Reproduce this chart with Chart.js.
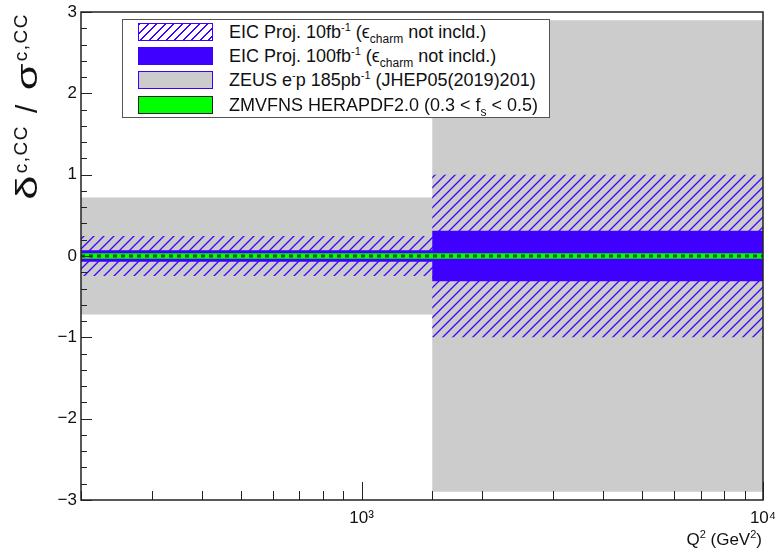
<!DOCTYPE html>
<html>
<head>
<meta charset="utf-8">
<script src="https://cdn.jsdelivr.net/npm/chart.js@4.4.1/dist/chart.umd.min.js"></script>
<style>
  body { margin: 0; background: #fff; font-family: "Liberation Sans", Arial, sans-serif; color: #111; }
  #wrap { position: relative; width: 775px; height: 550px; overflow: hidden; }
  #legend { position: absolute; left: 122px; top: 19px; width: 426px; height: 97px; border: 1px solid #555; background: #fff; }
  .row { position: absolute; left: 0; width: 100%; height: 24px; }
  .sw { position: absolute; left: 15px; top: 3px; width: 73px; height: 16px; box-sizing: content-box; }
  .txt { position: absolute; left: 106px; top: 0; line-height: 24px; font-size: 18px; white-space: nowrap; }
  .txt sup { font-size: 11px; vertical-align: 7px; line-height: 0; }
  .txt sub { font-size: 12px; vertical-align: -5px; line-height: 0; }
  #ytitle { position: absolute; left: 27px; top: 13px; transform-origin: 0 0; transform: rotate(-90deg) translate(-100%, -50%);
            font-size: 30px; white-space: nowrap; line-height: 1; }
  #ytitle .g { display: inline-block; transform: scaleX(1.45); margin: 0 6px; }
  #ytitle sup { font-size: 19px; letter-spacing: 1.5px; vertical-align: 10px; line-height: 0; }
  #ytitle .sl { margin: 0 13px 0 12px; }
  #xtitle { position: absolute; right: 13px; top: 530px; font-size: 17px; white-space: nowrap; }
  #xtitle sup { font-size: 11px; vertical-align: 7px; line-height: 0; }
</style>
</head>
<body>
<div id="wrap">
  <canvas id="chart" width="775" height="550"></canvas>
  <div id="ytitle"><span class="g">δ</span><sup>c,CC</sup><span class="sl">/</span><span class="g">σ</span><sup>c,CC</sup></div>
  <div id="xtitle">Q<sup>2</sup> (GeV<sup>2</sup>)</div>
  <div id="legend">
    <div class="row" style="top:0px">
      <div class="sw" style="border:1px solid #4000ff; background: repeating-linear-gradient(135deg, #4000ff 0 1.3px, #fff 1.3px 6px);"></div>
      <div class="txt">EIC Proj. 10fb<sup>-1</sup> (ϵ<sub>charm</sub> not incld.)</div>
    </div>
    <div class="row" style="top:24px">
      <div class="sw" style="border:1px solid #4000ff; background:#4000ff;"></div>
      <div class="txt">EIC Proj. 100fb<sup>-1</sup> (ϵ<sub>charm</sub> not incld.)</div>
    </div>
    <div class="row" style="top:48px">
      <div class="sw" style="border:1px solid #4000ff; background:#cccccc;"></div>
      <div class="txt">ZEUS e<sup>-</sup>p 185pb<sup>-1</sup> (JHEP05(2019)201)</div>
    </div>
    <div class="row" style="top:73px">
      <div class="sw" style="border:1px solid #222; background:#00ff00;"></div>
      <div class="txt">ZMVFNS HERAPDF2.0 (0.3 &lt; f<sub>s</sub> &lt; 0.5)</div>
    </div>
  </div>
</div>
<script>
// bins in Q^2 (GeV^2)
const binEdges = [200, 1500, 10000];
// relative uncertainty, one value per bin (symmetric)
const central = [0, 0];
const zeusErr = [0.72, 2.9];
const eic10Err = [0.245, 1.0];
const eic100Err = [0.07, 0.31];
const theoryErr = [0.035, 0.035];

const blue = "#4000ff";

function isMajor(v) {
  return Math.abs(v - Math.round(v)) < 1e-6;
}

// points for a stepped line, last edge repeats last bin value
function stepPoints(err, sign) {
  return binEdges.map((x, i) => {
    const k = Math.min(i, err.length - 1);
    return { x: x, y: central[k] + sign * err[k] };
  });
}

// hatch pattern like root fill style 3004
function makeHatch() {
  const c = document.createElement("canvas");
  c.width = 10;
  c.height = 10;
  const g = c.getContext("2d");
  g.strokeStyle = blue;
  g.lineWidth = 1.3;
  g.beginPath();
  g.moveTo(0, 10); g.lineTo(10, 0);
  g.moveTo(-5, 5); g.lineTo(5, -5);
  g.moveTo(5, 15); g.lineTo(15, 5);
  g.stroke();
  return g.createPattern(c, "repeat");
}

function band(err, color) {
  return [
    { data: stepPoints(err, 1), fill: "+1", backgroundColor: color },
    { data: stepPoints(err, -1), fill: false }
  ];
}

const rootAxes = {
  id: "rootAxes",
  afterDatasetsDraw(chart) {
    const { ctx, chartArea: a, scales } = chart;
    ctx.save();
    ctx.strokeStyle = "#222";
    ctx.lineWidth = 1;
    scales.y.ticks.forEach(t => {
      const py = Math.round(scales.y.getPixelForValue(t.value)) + 0.5;
      const len = isMajor(t.value) ? 11 : 6;
      ctx.beginPath();
      ctx.moveTo(a.left, py);
      ctx.lineTo(a.left + len, py);
      ctx.stroke();
    });
    scales.x.ticks.forEach(t => {
      const px = Math.round(scales.x.getPixelForValue(t.value)) + 0.5;
      const len = isMajor(Math.log10(t.value)) ? 18 : 9;
      ctx.beginPath();
      ctx.moveTo(px, a.bottom);
      ctx.lineTo(px, a.bottom - len);
      ctx.stroke();
    });
    ctx.lineWidth = 1.5;
    ctx.strokeRect(a.left, a.top, a.right - a.left, a.bottom - a.top);
    ctx.restore();
  }
};

const datasets = [
  { data: stepPoints(central, 0), fill: false, borderColor: "#0b5a0b", borderWidth: 3, borderDash: [4, 4] }
]
  .concat(band(theoryErr, "#00ff00"))
  .concat(band(eic100Err, blue))
  .concat(band(eic10Err, makeHatch()))
  .concat(band(zeusErr, "#cccccc"));

datasets.forEach(d => {
  d.showLine = true;
  d.stepped = "before"; // horizontal across the bin, then step at the edge
  d.pointRadius = 0;
  if (!d.borderColor) {
    d.borderColor = "rgba(0,0,0,0)";
    d.borderWidth = 0;
  }
});

Chart.defaults.font.family = "'Liberation Sans', Arial, sans-serif";
Chart.defaults.color = "#111";

new Chart(document.getElementById("chart"), {
  type: "scatter",
  data: { datasets: datasets },
  options: {
    responsive: false,
    animation: false,
    layout: { padding: { top: 12, right: 12, left: 0, bottom: 0 } },
    plugins: { legend: { display: false }, tooltip: { enabled: false } },
    scales: {
      x: {
        type: "logarithmic",
        min: 200,
        max: 10000,
        grid: { display: false, drawTicks: false },
        border: { display: false },
        ticks: {
          autoSkip: false,
          maxRotation: 0,
          padding: 8,
          font: { size: 17 },
          callback: v => (v === 1000 ? "10³" : v === 10000 ? "10⁴" : "")
        },
        afterFit(s) {
          s.height = 50;
          s.paddingLeft = 0;
          s.paddingRight = 0;
        }
      },
      y: {
        min: -3,
        max: 3,
        grid: { display: false, drawTicks: false },
        border: { display: false },
        ticks: {
          stepSize: 0.2,
          autoSkip: false,
          padding: 4,
          font: { size: 17 },
          callback: v => (isMajor(v) ? String(Math.round(v)).replace("-", "\u2212") : "")
        },
        afterFit(s) {
          s.width = 81;
          s.paddingTop = 0;
          s.paddingBottom = 0;
        }
      }
    }
  },
  plugins: [rootAxes]
});
</script>
</body>
</html>
